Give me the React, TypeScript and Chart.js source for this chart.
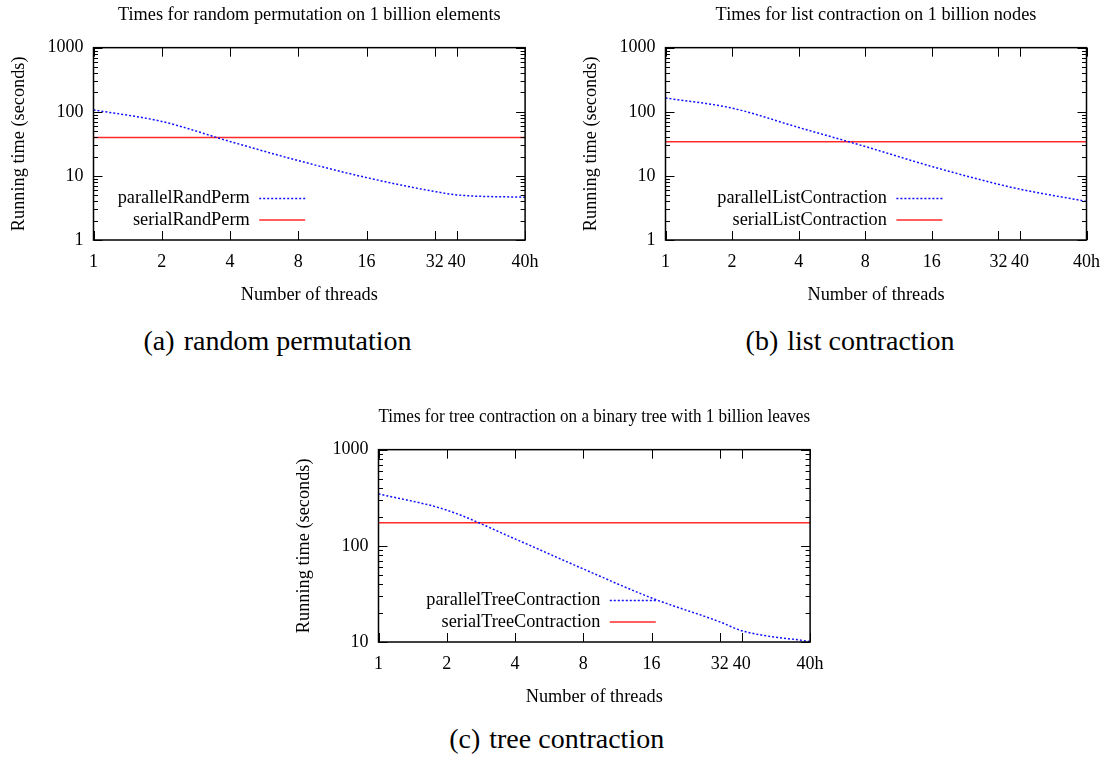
import React, { useEffect, useRef } from 'react';
import { Chart, registerables } from 'chart.js';

Chart.register(...registerables);

// Thread counts on the x axis; 80 is the hyper-threaded run on 40 cores.
const threads = [1, 2, 4, 8, 16, 32, 40, 80];
const threadTickLabels = ['1', '2', '4', '8', '16', '32', '40', '40h'];

// Running times in seconds.
const randPermParallel = [107, 70.6, 34.4, 17.3, 9.4, 5.7, 5.05, 4.64];
const randPermSerial = 39.7;

const listParallel = [164, 114, 56.9, 28.7, 14, 7.4, 6.2, 4.0];
const listSerial = 34;

const treeParallel = [347, 235, 118, 57.5, 28.7, 16.2, 13.1, 10.1];
const treeSerial = 174;

const decadeTicks = [1, 10, 100, 1000];

const FAMILY = '"Liberation Serif", "Times New Roman", serif';
const PLOT_W = 431.6;
const Y_AXIS_W = 93.5;

type PanelSpec = {
  title: string;
  parallelLabel: string;
  serialLabel: string;
  parallel: number[];
  serial: number;
  yMin: number;
  yMax: number;
  keyRight: number;
  left: number;
  top: number;
  width: number;
};

const panels: PanelSpec[] = [
  {
    title: 'Times for random permutation on 1 billion elements',
    parallelLabel: 'parallelRandPerm',
    serialLabel: 'serialRandPerm',
    parallel: randPermParallel,
    serial: randPermSerial,
    yMin: 1,
    yMax: 1000,
    keyRight: 156.2,
    left: 0,
    top: 0,
    width: 560,
  },
  {
    title: 'Times for list contraction on 1 billion nodes',
    parallelLabel: 'parallelListContraction',
    serialLabel: 'serialListContraction',
    parallel: listParallel,
    serial: listSerial,
    yMin: 1,
    yMax: 1000,
    keyRight: 221.4,
    left: 572,
    top: 0,
    width: 539,
  },
  {
    title: 'Times for tree contraction on a binary tree with 1 billion leaves',
    parallelLabel: 'parallelTreeContraction',
    serialLabel: 'serialTreeContraction',
    parallel: treeParallel,
    serial: treeSerial,
    yMin: 10,
    yMax: 1000,
    keyRight: 221.8,
    left: 285,
    top: 402,
    width: 560,
  },
];

const CANVAS_H = 320;

// Plot frame plus gnuplot-style inward ticks (major and log minor) on all sides.
const frameAndTicks = {
  id: 'frameAndTicks',
  afterDatasetsDraw(chart: any) {
    const { ctx, chartArea: a, scales } = chart;
    const x = scales.x;
    const y = scales.y;
    ctx.save();
    ctx.strokeStyle = '#000';
    ctx.lineWidth = 1;
    const seg = (x1: number, y1: number, x2: number, y2: number) => {
      ctx.beginPath();
      ctx.moveTo(x1, y1);
      ctx.lineTo(x2, y2);
      ctx.stroke();
    };
    const lo = Math.floor(Math.log10(y.min));
    const hi = Math.ceil(Math.log10(y.max));
    for (let e = lo; e <= hi; e++) {
      for (let m = 1; m <= 9; m++) {
        const v = m * Math.pow(10, e);
        if (v < y.min * 0.999 || v > y.max * 1.001) continue;
        const py = Math.round(y.getPixelForValue(v)) + 0.5;
        const len = m === 1 ? 9 : 4.5;
        seg(a.left, py, a.left + len, py);
        seg(a.right, py, a.right - len, py);
      }
    }
    x.ticks.forEach((t: any) => {
      const px = Math.round(x.getPixelForValue(t.value)) + 0.5;
      seg(px, a.bottom, px, a.bottom - 9);
      seg(px, a.top, px, a.top + 9);
    });
    ctx.lineWidth = 1.5;
    ctx.strokeRect(a.left, a.top, a.right - a.left, a.bottom - a.top);
    ctx.restore();
  },
};

// Key drawn inside the plot: right-aligned label followed by a line sample.
const insideKey = {
  id: 'insideKey',
  afterDatasetsDraw(chart: any, _args: any, opts: any) {
    const { ctx, chartArea: a } = chart;
    const textRight = a.left + opts.textRight;
    const rows = [41.5, 20];
    ctx.save();
    chart.data.datasets.forEach((ds: any, i: number) => {
      const yy = a.bottom - rows[i];
      ctx.font = `18.3px ${FAMILY}`;
      ctx.textAlign = 'right';
      ctx.textBaseline = 'middle';
      ctx.fillStyle = '#000';
      ctx.fillText(ds.label, textRight, yy);
      ctx.strokeStyle = ds.borderColor;
      ctx.lineWidth = ds.borderWidth;
      ctx.setLineDash(ds.borderDash || []);
      ctx.beginPath();
      ctx.moveTo(textRight + 9.5, yy);
      ctx.lineTo(textRight + 9.5 + 46, yy);
      ctx.stroke();
    });
    ctx.restore();
  },
};

function Panel({ spec }: { spec: PanelSpec }) {
  const ref = useRef<HTMLCanvasElement>(null);

  useEffect(() => {
    const canvas = ref.current;
    if (!canvas) return;
    const tickFont = { family: FAMILY, size: 18 };
    const labelFont = { family: FAMILY, size: 18.3 };
    const chart = new Chart(canvas, {
      type: 'line',
      data: {
        datasets: [
          {
            label: spec.parallelLabel,
            data: threads.map((t, i) => ({ x: t, y: spec.parallel[i] })),
            borderColor: '#1010ff',
            borderWidth: 1.5,
            borderDash: [2, 2],
            pointRadius: 0,
            cubicInterpolationMode: 'monotone',
            fill: false,
          },
          {
            label: spec.serialLabel,
            data: [
              { x: threads[0], y: spec.serial },
              { x: threads[threads.length - 1], y: spec.serial },
            ],
            borderColor: '#ff2a2a',
            borderWidth: 1.6,
            pointRadius: 0,
            fill: false,
          },
        ],
      },
      options: {
        responsive: false,
        animation: false,
        events: [],
        layout: {
          padding: { left: 0, top: 0, bottom: 0, right: spec.width - Y_AXIS_W - PLOT_W },
        },
        plugins: {
          legend: { display: false },
          tooltip: { enabled: false },
          title: {
            display: true,
            text: spec.title,
            color: '#000',
            fullSize: false,
            font: { family: FAMILY, size: 18.3, weight: 'normal' },
            padding: { top: 4.4, bottom: 21.3 },
          },
          insideKey: { textRight: spec.keyRight },
        } as any,
        scales: {
          x: {
            type: 'logarithmic',
            min: threads[0],
            max: threads[threads.length - 1],
            grid: { display: false, drawTicks: false },
            border: { display: false },
            afterBuildTicks: (s: any) => {
              s.ticks = threads.map((v) => ({ value: v }));
            },
            afterFit: (s: any) => {
              s.height = 80;
            },
            ticks: {
              autoSkip: false,
              maxRotation: 0,
              minRotation: 0,
              padding: 11,
              color: '#000',
              font: tickFont,
              callback: (v: any) => {
                const i = threads.indexOf(Number(v));
                return i >= 0 ? threadTickLabels[i] : '';
              },
            },
            title: {
              display: true,
              text: 'Number of threads',
              color: '#000',
              font: labelFont,
              padding: { top: 0, bottom: 13.5 },
            },
          },
          y: {
            type: 'logarithmic',
            min: spec.yMin,
            max: spec.yMax,
            grid: { display: false, drawTicks: false },
            border: { display: false },
            afterBuildTicks: (s: any) => {
              s.ticks = decadeTicks
                .filter((v) => v >= spec.yMin && v <= spec.yMax)
                .map((v) => ({ value: v }));
            },
            afterFit: (s: any) => {
              s.width = Y_AXIS_W;
            },
            ticks: {
              padding: 10,
              color: '#000',
              font: tickFont,
              callback: (v: any) => String(v),
            },
            title: {
              display: true,
              text: 'Running time (seconds)',
              color: '#000',
              font: labelFont,
              padding: { top: 8, bottom: 0 },
            },
          },
        },
      } as any,
      plugins: [frameAndTicks, insideKey],
    });
    return () => chart.destroy();
  }, [spec]);

  return (
    <canvas
      ref={ref}
      width={spec.width}
      height={CANVAS_H}
      style={{ position: 'absolute', left: spec.left, top: spec.top, width: spec.width, height: CANVAS_H }}
    />
  );
}

const captions = [
  { tag: '(a)', text: 'random permutation', cx: 277.5, cy: 341 },
  { tag: '(b)', text: 'list contraction', cx: 850, cy: 341 },
  { tag: '(c)', text: 'tree contraction', cx: 556.7, cy: 739 },
];

export default function App() {
  return (
    <div style={{ position: 'absolute', left: 0, top: 0, width: 1111, height: 757, background: '#fff' }}>
      {panels.map((p) => (
        <Panel key={p.title} spec={p} />
      ))}
      {captions.map((c) => (
        <div
          key={c.tag}
          style={{
            position: 'absolute',
            left: c.cx - 200,
            top: c.cy - 15,
            width: 400,
            height: 30,
            lineHeight: '30px',
            textAlign: 'center',
            fontFamily: FAMILY,
            fontSize: 28,
            color: '#000',
            whiteSpace: 'nowrap',
          }}
        >
          <span>{c.tag}</span>
          <span style={{ marginLeft: 9 }}>{c.text}</span>
        </div>
      ))}
    </div>
  );
}
